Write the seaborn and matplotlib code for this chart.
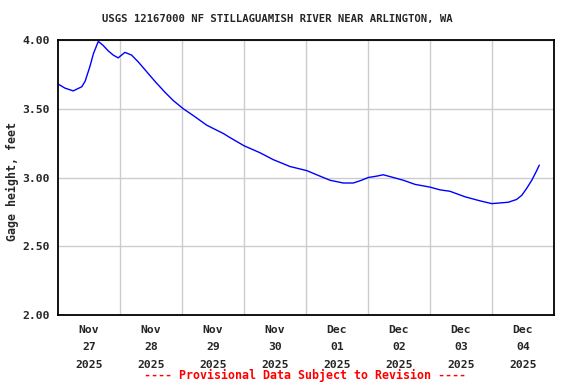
import matplotlib
matplotlib.use("Agg")
import matplotlib.pyplot as plt
import seaborn as sns
import pandas as pd

# hours after 2025-11-27 00:00
hours = [0, 2.7, 5.9, 9.2, 10.5, 12.4, 13.7, 15.6, 17.5, 19.5, 21.4, 23.3,
         25.9, 28.5, 31.1, 34.3, 37.5, 41.4, 44.6, 48.5, 52.4, 57.6, 64.0,
         66.6, 72.1, 78.2, 83.3, 89.8, 96.3, 101.4, 105.3, 110.4, 114.3,
         117.5, 120.1, 123.4, 125.9, 129.8, 133.7, 138.2, 144.0, 147.9,
         151.7, 157.5, 163.4, 167.9, 174.3, 177.5, 179.5, 181.4, 183.4,
         185.3, 186.3]
gage = [3.68, 3.65, 3.63, 3.66, 3.70, 3.81, 3.90, 3.99, 3.96, 3.92, 3.89, 3.87,
        3.91, 3.89, 3.84, 3.77, 3.70, 3.62, 3.56, 3.50, 3.45, 3.38, 3.32,
        3.29, 3.23, 3.18, 3.13, 3.08, 3.05, 3.01, 2.98, 2.96, 2.96,
        2.98, 3.00, 3.01, 3.02, 3.00, 2.98, 2.95, 2.93, 2.91,
        2.90, 2.86, 2.83, 2.81, 2.82, 2.84, 2.87, 2.92, 2.98,
        3.05, 3.09]
day_labels = ["Nov\n27\n2025", "Nov\n28\n2025", "Nov\n29\n2025", "Nov\n30\n2025",
              "Dec\n01\n2025", "Dec\n02\n2025", "Dec\n03\n2025", "Dec\n04\n2025"]
y_ticks = [2.00, 2.50, 3.00, 3.50, 4.00]

start = pd.Timestamp("2025-11-27 00:00")
df = pd.DataFrame({"time": [start + pd.Timedelta(hours=h) for h in hours],
                   "gage": gage})

sns.set_style("white")
plt.rcParams["font.family"] = ["DejaVu Sans Mono"]

fig = plt.figure(figsize=(5.76, 3.84), dpi=100)
ax = fig.add_axes([58/576, 1-315/384, (554-58)/576, (315-40)/384])

sns.lineplot(data=df, x="time", y="gage", ax=ax, color="#0000ff", lw=1.0)

ax.set_xlim(start, start + pd.Timedelta(days=8))
ax.set_ylim(2.0, 4.0)

major = [start + pd.Timedelta(days=d) for d in range(1, 8)]
minor = [start + pd.Timedelta(days=d, hours=12) for d in range(8)]
ax.set_xticks(major)
ax.set_xticklabels([""] * len(major))
ax.set_xticks(minor, minor=True)
ax.set_xticklabels(day_labels, minor=True, fontsize=8.2, fontweight="bold",
                   linespacing=1.95)
ax.tick_params(axis="x", which="both", length=0, pad=7)
ax.set_yticks(y_ticks)
ax.set_yticklabels([f"{v:.2f}" for v in y_ticks], fontsize=8.2, fontweight="bold")
ax.tick_params(axis="y", length=3, color="#cccccc", pad=3)

ax.grid(True, which="major", color="#cccccc", lw=1)
for s in ax.spines.values():
    s.set_color("black")
    s.set_linewidth(1.3)

ax.set_xlabel("")
ax.set_ylabel("")
fig.text(12/576, 1-182/384, "Gage height, feet", rotation=90, ha="center",
         va="center", fontsize=8.4, fontweight="bold")

fig.text(277.5/576, 1-19/384, "USGS 12167000 NF STILLAGUAMISH RIVER NEAR ARLINGTON, WA",
         ha="center", va="center", fontsize=7.7, fontweight="bold")
fig.text(305.5/576, 1-375/384, "---- Provisional Data Subject to Revision ----",
         ha="center", va="center", fontsize=8.4, fontweight="bold", color="red")

fig.savefig("out.png", dpi=100)
